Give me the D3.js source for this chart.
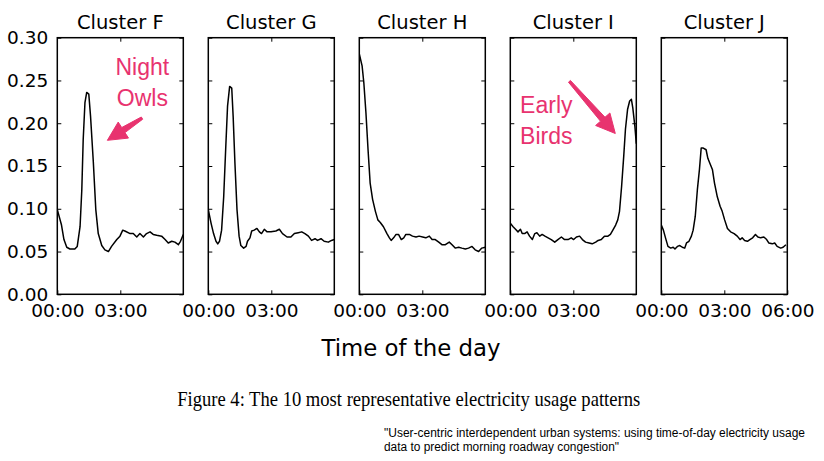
<!DOCTYPE html>
<html>
<head>
<meta charset="utf-8">
<script src="https://cdn.jsdelivr.net/npm/d3@7"></script>
<style>
  body { margin: 0; background: #fff; }
  svg { display: block; }
</style>
</head>
<body>
<div id="chart-area"></div>
<script>
// minutes after midnight, usage value
var clusterF = [[0,0.099],[12,0.081],[19,0.064],[27,0.055],[36,0.053],[50,0.053],[57,0.056],[65,0.079],[70,0.122],[74,0.181],[79,0.224],[84,0.236],[90,0.234],[95,0.208],[103,0.154],[110,0.099],[117,0.071],[127,0.057],[136,0.052],[146,0.050],[155,0.056],[170,0.064],[179,0.068],[187,0.075],[193,0.074],[208,0.071],[217,0.071],[227,0.067],[236,0.071],[246,0.067],[255,0.071],[265,0.073],[274,0.070],[284,0.069],[298,0.068],[308,0.064],[317,0.060],[327,0.062],[336,0.061],[346,0.058],[352,0.062],[360,0.070]];
var clusterG = [[0,0.099],[8,0.083],[15,0.071],[22,0.062],[27,0.059],[32,0.062],[38,0.075],[44,0.114],[50,0.173],[55,0.220],[61,0.243],[67,0.241],[71,0.208],[76,0.154],[82,0.099],[88,0.068],[93,0.057],[101,0.054],[108,0.056],[112,0.062],[119,0.066],[124,0.074],[131,0.075],[139,0.077],[146,0.073],[152,0.071],[160,0.076],[168,0.073],[179,0.073],[193,0.074],[203,0.076],[212,0.071],[225,0.067],[236,0.067],[246,0.071],[257,0.072],[267,0.073],[276,0.071],[286,0.068],[295,0.063],[305,0.065],[312,0.063],[322,0.065],[331,0.062],[343,0.061],[352,0.063],[360,0.064]];
var clusterH = [[0,0.281],[8,0.267],[13,0.247],[19,0.212],[25,0.169],[31,0.130],[38,0.111],[46,0.097],[53,0.087],[60,0.084],[69,0.079],[79,0.071],[86,0.066],[91,0.063],[98,0.066],[105,0.070],[112,0.070],[120,0.064],[127,0.066],[133,0.070],[143,0.070],[152,0.068],[162,0.067],[171,0.068],[181,0.067],[190,0.066],[200,0.068],[208,0.064],[217,0.064],[227,0.061],[236,0.058],[246,0.058],[257,0.061],[265,0.058],[274,0.054],[284,0.055],[293,0.054],[303,0.053],[312,0.054],[322,0.056],[331,0.052],[341,0.050],[350,0.054],[360,0.055]];
var clusterI = [[0,0.083],[8,0.079],[15,0.076],[22,0.073],[29,0.076],[34,0.071],[41,0.071],[48,0.073],[55,0.068],[63,0.064],[70,0.071],[76,0.072],[84,0.068],[91,0.070],[99,0.068],[108,0.066],[117,0.064],[127,0.061],[136,0.064],[146,0.067],[155,0.064],[165,0.064],[174,0.066],[181,0.064],[189,0.067],[198,0.068],[206,0.064],[215,0.061],[225,0.060],[234,0.059],[244,0.061],[251,0.063],[260,0.064],[269,0.068],[279,0.068],[286,0.070],[293,0.075],[301,0.081],[307,0.087],[312,0.097],[318,0.126],[324,0.161],[329,0.193],[335,0.216],[341,0.226],[346,0.228],[350,0.218],[356,0.196],[360,0.176]];
var clusterJ = [[0,0.081],[6,0.075],[12,0.066],[19,0.056],[27,0.054],[34,0.055],[39,0.053],[46,0.056],[53,0.057],[60,0.055],[67,0.054],[72,0.060],[79,0.062],[86,0.068],[91,0.075],[97,0.091],[103,0.122],[109,0.146],[114,0.171],[120,0.171],[128,0.169],[133,0.159],[139,0.153],[146,0.146],[152,0.130],[160,0.114],[168,0.103],[174,0.097],[181,0.087],[189,0.077],[198,0.073],[208,0.071],[217,0.068],[225,0.064],[231,0.066],[238,0.063],[246,0.062],[253,0.064],[261,0.066],[269,0.070],[276,0.067],[284,0.066],[293,0.067],[301,0.064],[307,0.060],[317,0.059],[324,0.060],[331,0.056],[341,0.054],[348,0.055],[356,0.058]];

var clusterNames = ["Cluster F", "Cluster G", "Cluster H", "Cluster I", "Cluster J"];
var series = [clusterF, clusterG, clusterH, clusterI, clusterJ];
var yTicks = [0, 0.05, 0.10, 0.15, 0.20, 0.25, 0.30];
var xTicks = [0, 180, 360];
var xTickLabels = ["00:00", "03:00", "06:00"];

// annotation anchors in data units (minutes, value)
var noteLines = [
    { panel: 0, lines: ["Night", "Owls"], at: [[243, 0.256], [243, 0.220]], anchor: "middle" },
    { panel: 3, lines: ["Early", "Birds"], at: [[28, 0.212], [28, 0.176]], anchor: "start" }
];
var noteArrows = [
    { panel: 0, from: [242, 0.206], to: [143, 0.180] },
    { panel: 3, from: [169, 0.249], to: [300, 0.188] }
];

var width = 824;
var height = 461;
var padLeft = 57.3, padTop = 37.7, pw = 126, ph = 256.6, step = 151;
var pink = "#e8336f";

var svg = d3.select("#chart-area")
    .append("svg")
    .attr("width", width)
    .attr("height", height);

var x = d3.scaleLinear().domain([0, 360]).range([0, pw]);
var y = d3.scaleLinear().domain([0, 0.30]).range([ph, 0]);

function fmtTime(d) {
    return xTickLabels[xTicks.indexOf(d)];
}

var line = d3.line()
    .x(function(d) { return x(d[0]); })
    .y(function(d) { return y(d[1]); });

svg.append("defs").append("clipPath").attr("id", "clip")
    .append("rect").attr("width", pw).attr("height", ph);

series.forEach(function(data, i) {
    var g = svg.append("g")
        .attr("transform", "translate(" + (padLeft + i * step) + "," + padTop + ")");

    var yl = d3.axisLeft(y).tickValues(yTicks).tickSize(-4).tickPadding(9)
        .tickFormat(i === 0 ? d3.format(".2f") : "");
    var yr = d3.axisRight(y).tickValues(yTicks).tickSize(-4).tickFormat("");
    var xb = d3.axisBottom(x).tickValues(i === 4 ? xTicks : [0, 180]).tickSize(-4).tickPadding(9.5)
        .tickFormat(fmtTime);
    var xt = d3.axisTop(x).tickValues([180]).tickSize(-4).tickFormat("");

    g.append("g").call(yl);
    g.append("g").attr("transform", "translate(" + pw + ",0)").call(yr);
    g.append("g").attr("transform", "translate(0," + ph + ")").call(xb);
    g.append("g").call(xt);

    g.selectAll(".domain").remove();
    g.selectAll(".tick line").attr("stroke", "#000").attr("stroke-width", 1);
    g.selectAll(".tick text")
        .attr("fill", "#000")
        .style("font-family", "DejaVu Sans")
        .style("font-size", "18.5px");

    g.append("path")
        .datum(data)
        .attr("clip-path", "url(#clip)")
        .attr("fill", "none")
        .attr("stroke", "#000")
        .attr("stroke-width", 1.5)
        .attr("stroke-linejoin", "round")
        .attr("d", line);

    g.append("rect")
        .attr("width", pw)
        .attr("height", ph)
        .attr("fill", "none")
        .attr("stroke", "#000")
        .attr("stroke-width", 1.5);

    g.append("text")
        .attr("x", pw / 2)
        .attr("y", -8.5)
        .attr("text-anchor", "middle")
        .style("font-family", "DejaVu Sans")
        .style("font-size", "19.5px")
        .text(clusterNames[i]);
});

// pink notes
noteLines.forEach(function(n) {
    var ox = padLeft + n.panel * step;
    n.lines.forEach(function(t, k) {
        svg.append("text")
            .attr("x", ox + x(n.at[k][0]))
            .attr("y", padTop + y(n.at[k][1]))
            .attr("text-anchor", n.anchor)
            .attr("fill", pink)
            .style("font-family", "Liberation Sans")
            .style("font-size", "23px")
            .text(t);
    });
});

noteArrows.forEach(function(a) {
    var ox = padLeft + a.panel * step;
    var x0 = ox + x(a.from[0]), y0 = padTop + y(a.from[1]);
    var x1 = ox + x(a.to[0]), y1 = padTop + y(a.to[1]);
    var dx = x1 - x0, dy = y1 - y0, len = Math.sqrt(dx * dx + dy * dy);
    var ux = dx / len, uy = dy / len, nx = -uy, ny = ux;
    var hl = 19, hw = 9.5, sw0 = 1.3, sw1 = 3;
    var bx = x1 - ux * hl, by = y1 - uy * hl;
    var pts = [
        [x0 + nx * sw0, y0 + ny * sw0],
        [bx + nx * sw1, by + ny * sw1],
        [bx + nx * hw, by + ny * hw],
        [x1, y1],
        [bx - nx * hw, by - ny * hw],
        [bx - nx * sw1, by - ny * sw1],
        [x0 - nx * sw0, y0 - ny * sw0]
    ];
    svg.append("path")
        .attr("d", "M" + pts.map(function(p) { return p.join(","); }).join("L") + "Z")
        .attr("fill", pink)
        .attr("stroke", pink)
        .attr("stroke-width", 1)
        .attr("stroke-linejoin", "round");
});

svg.append("text")
    .attr("x", 411)
    .attr("y", 356)
    .attr("text-anchor", "middle")
    .style("font-family", "DejaVu Sans")
    .style("font-size", "22.8px")
    .text("Time of the day");

svg.append("text")
    .attr("x", 408.7)
    .attr("y", 406)
    .attr("text-anchor", "middle")
    .attr("textLength", 463)
    .attr("lengthAdjust", "spacingAndGlyphs")
    .style("font-family", "Liberation Serif")
    .style("font-size", "21px")
    .text("Figure 4: The 10 most representative electricity usage patterns");

svg.append("text")
    .attr("x", 384)
    .attr("y", 437.3)
    .attr("textLength", 421)
    .attr("lengthAdjust", "spacingAndGlyphs")
    .style("font-family", "Liberation Sans Narrow, Liberation Sans")
    .style("font-size", "12.5px")
    .text("\"User-centric interdependent urban systems: using time-of-day electricity usage");

svg.append("text")
    .attr("x", 384)
    .attr("y", 450.7)
    .attr("textLength", 235)
    .attr("lengthAdjust", "spacingAndGlyphs")
    .style("font-family", "Liberation Sans Narrow, Liberation Sans")
    .style("font-size", "12.5px")
    .text("data to predict morning roadway congestion\"");
</script>
</body>
</html>
